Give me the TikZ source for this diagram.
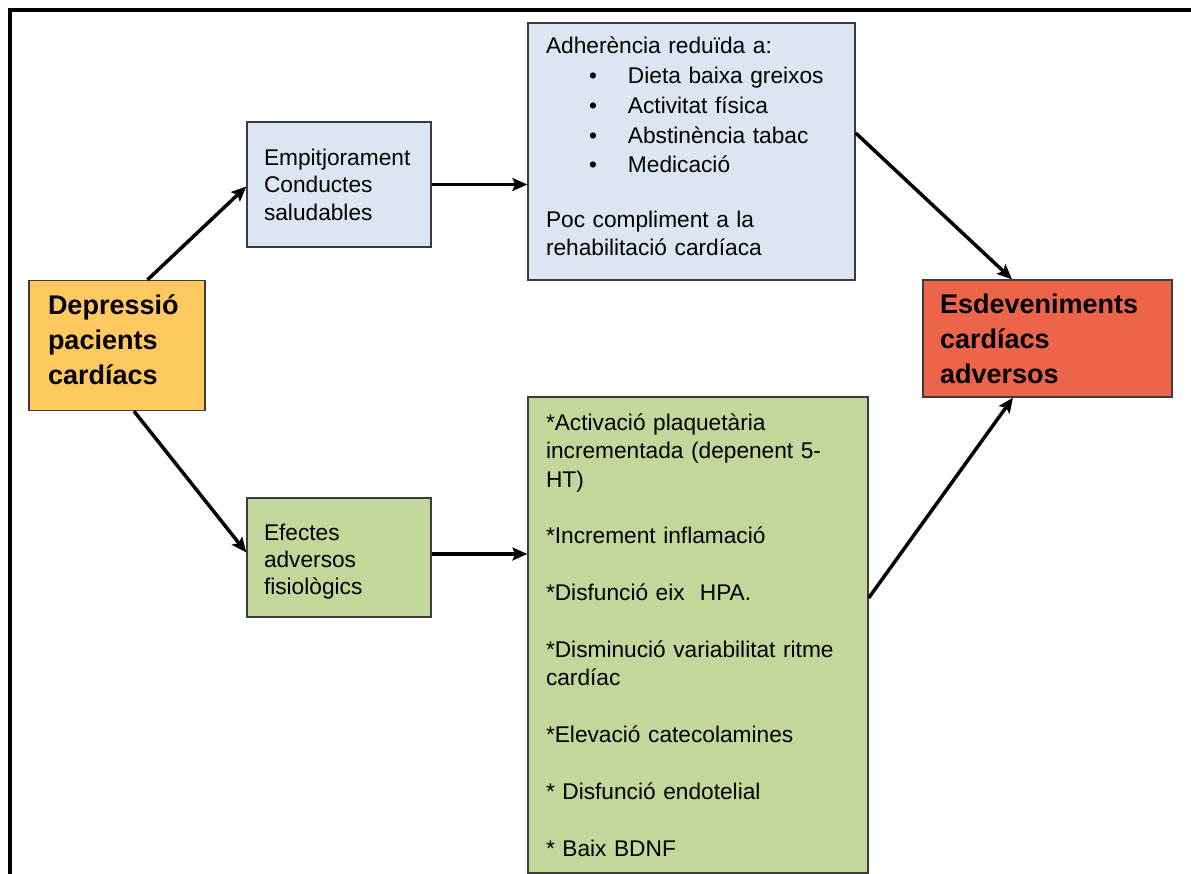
\documentclass[tikz,border=0pt]{standalone}
\usepackage{fontspec}
\setmainfont{Liberation Sans}
\usetikzlibrary{arrows.meta}
\definecolor{cOrange}{RGB}{255,201,95}
\definecolor{cRed}{RGB}{236,101,74}
\definecolor{cBlue}{RGB}{220,230,242}
\definecolor{cGreen}{RGB}{196,215,155}
\definecolor{boxline}{RGB}{60,60,60}
\begin{document}
\begin{tikzpicture}[x=1pt,y=-1pt,
  box/.style={draw=boxline, line width=1.3pt, align=left, inner ysep=0pt, anchor=center},
  norm/.style={font=\fontsize{22.7}{27.5}\selectfont},
  bigb/.style={font=\bfseries\fontsize{27}{35}\selectfont},
  arr/.style={line width=3.5pt, -{Stealth[length=15pt,width=13pt,inset=3pt]}}]
\useasboundingbox (0,0) rectangle (1191,874);
\fill[white] (0,0) rectangle (1191,874);
% outer frame (cut at the bottom and right)
\draw[line width=3.2pt] (10,900) -- (10,10) -- (1220,10);

\node[box, bigb, fill=cOrange, minimum width=176pt, minimum height=130pt,
      inner xsep=19pt, text width=138pt] (dep) at (117,345.5)
  {Depressió\\pacients\\cardíacs\rule[-12pt]{0pt}{0pt}};

\node[box, bigb, fill=cRed, minimum width=249pt, minimum height=117pt,
      inner xsep=17pt, text width=215pt] (esd) at (1047.5,338.5)
  {Esdeveniments\\cardíacs\\adversos};

\node[box, norm, fill=cBlue, minimum width=184pt, minimum height=125pt,
      inner xsep=17pt, text width=150pt] (emp) at (339,184.5)
  {Empitjorament\\Conductes\\saludables};

\node[box, norm, fill=cGreen, minimum width=184pt, minimum height=119pt,
      inner xsep=17pt, text width=150pt, font=\fontsize{22.7}{27}\selectfont] (eff) at (339,557.5)
  {\rule{0pt}{25pt}Efectes\\adversos\\fisiològics};

\node[box, norm, fill=cBlue, minimum width=327pt, minimum height=257pt,
      inner xsep=18pt, text width=291pt, font=\fontsize{22.7}{28}\selectfont] (adh) at (691.5,151.5)
  {Adherència reduïda a:\\[1.75pt]
   \makebox[82pt][l]{\hspace{43pt}\textbullet}Dieta baixa greixos\\[1.75pt]
   \makebox[82pt][l]{\hspace{43pt}\textbullet}Activitat física\\[1.75pt]
   \makebox[82pt][l]{\hspace{43pt}\textbullet}Abstinència tabac\\[1.75pt]
   \makebox[82pt][l]{\hspace{43pt}\textbullet}Medicació\\[27pt]
   Poc compliment a la\\
   rehabilitació cardíaca\rule[-10pt]{0pt}{0pt}};

\node[box, norm, fill=cGreen, minimum width=340pt, minimum height=476pt,
      inner xsep=18pt, text width=304pt, font=\fontsize{22.7}{28.4}\selectfont] (grn) at (698,635)
  {*Activació plaquetària\\
   incrementada (depenent 5-\\
   HT)\\[28.4pt]
   *Increment inflamació\\[28.4pt]
   *Disfunció eix\ \ HPA.\\[28.4pt]
   *Disminució variabilitat ritme\\
   cardíac\\[28.4pt]
   *Elevació catecolamines\\[28.4pt]
   * Disfunció endotelial\\[28.4pt]
   * Baix BDNF};

\draw[arr] ([xshift=30.5pt]dep.north) -- ([yshift=-2pt]emp.west);
\draw[arr] ([xshift=17pt]dep.south) -- ([yshift=5pt]eff.west);
\draw[arr] (emp.east) -- (emp.east -| adh.west);
\draw[arr] ([yshift=3.5pt]eff.east) -- ([yshift=3.5pt]eff.east -| grn.west);
\draw[arr] ([yshift=18.5pt]adh.east) -- ([xshift=-35.5pt]esd.north);
\draw[arr] ([yshift=37pt]grn.east) -- ([xshift=-34.5pt]esd.south);
\end{tikzpicture}
\end{document}
